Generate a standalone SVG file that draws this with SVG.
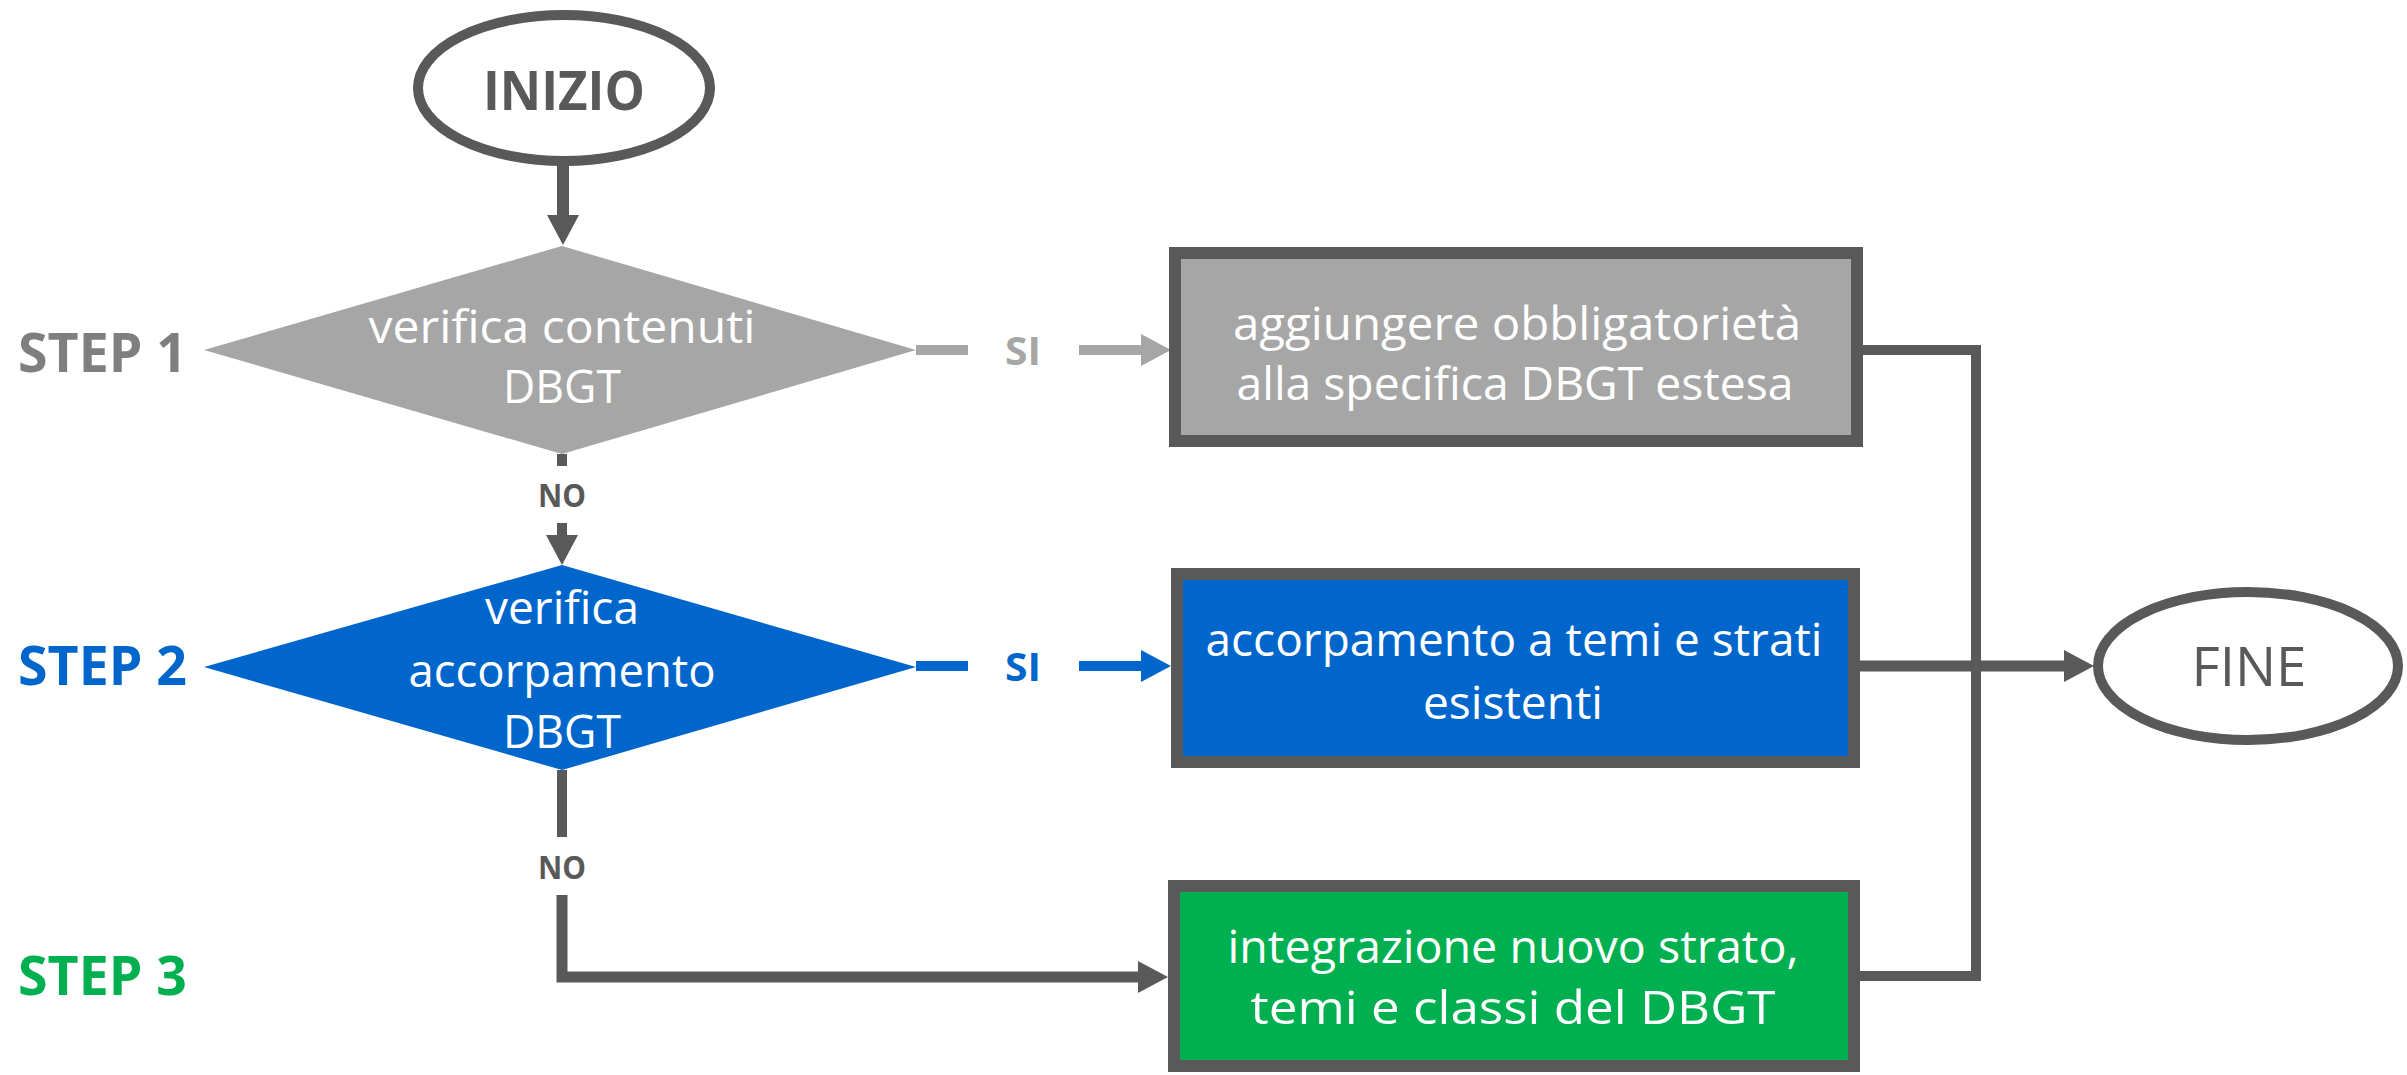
<svg xmlns="http://www.w3.org/2000/svg" width="2407" height="1075" viewBox="0 0 2407 1075">
<defs>
<style>
.t{font-family:"Open Sans","Liberation Sans",sans-serif;text-anchor:middle}
.w{fill:#fff;font-size:46px}
.b{font-weight:bold}
.step{font-family:"Open Sans","Liberation Sans",sans-serif;font-weight:bold;font-size:54px}
.ln{fill:none;stroke-linejoin:miter}
.dk{stroke:#595959}
.lg{stroke:#A6A6A6}
.bl{stroke:#0066CC}
.box{stroke:#595959;stroke-width:12}
.term{fill:#fff;stroke:#595959;stroke-width:10}
</style>
<marker id="ad" markerUnits="userSpaceOnUse" markerWidth="30" markerHeight="32" refX="0" refY="16" orient="auto"><path d="M0,0 L30,16 L0,32 z" fill="#595959"/></marker>
<marker id="ag" markerUnits="userSpaceOnUse" markerWidth="30" markerHeight="32" refX="0" refY="16" orient="auto"><path d="M0,0 L30,16 L0,32 z" fill="#A6A6A6"/></marker>
<marker id="ab" markerUnits="userSpaceOnUse" markerWidth="30" markerHeight="32" refX="0" refY="16" orient="auto"><path d="M0,0 L30,16 L0,32 z" fill="#0066CC"/></marker>
</defs>

<g id="labels">
<text class="step" x="18" y="372" fill="#7F7F7F" textLength="169" lengthAdjust="spacingAndGlyphs">STEP 1</text>
<text class="step" x="18" y="685" fill="#0066CC" textLength="169" lengthAdjust="spacingAndGlyphs">STEP 2</text>
<text class="step" x="18" y="995" fill="#00B050" textLength="169" lengthAdjust="spacingAndGlyphs">STEP 3</text>
</g>

<g id="connectors">
<path class="ln dk" stroke-width="12" d="M563,161 V215" marker-end="url(#ad)"/>
<path class="ln lg" stroke-width="10" d="M916,350 H968"/>
<text class="t b" x="1023" y="365" font-size="39" fill="#A6A6A6" textLength="36" lengthAdjust="spacingAndGlyphs">SI</text>
<path class="ln lg" stroke-width="10" d="M1079,350 H1141" marker-end="url(#ag)"/>
<path class="ln dk" stroke-width="10" d="M562,454 V466"/>
<text class="t b" x="562" y="507" font-size="32" fill="#595959" textLength="48" lengthAdjust="spacingAndGlyphs">NO</text>
<path class="ln dk" stroke-width="10" d="M562,523 V535" marker-end="url(#ad)"/>
<path class="ln bl" stroke-width="10" d="M916,666 H968"/>
<text class="t b" x="1023" y="681" font-size="39" fill="#0066CC" textLength="36" lengthAdjust="spacingAndGlyphs">SI</text>
<path class="ln bl" stroke-width="10" d="M1079,666 H1141" marker-end="url(#ab)"/>
<path class="ln dk" stroke-width="10" d="M562,770 V837"/>
<text class="t b" x="562" y="879" font-size="32" fill="#595959" textLength="48" lengthAdjust="spacingAndGlyphs">NO</text>
<path class="ln dk" stroke-width="11" d="M562,895 V977 H1138" marker-end="url(#ad)"/>
<path class="ln dk" stroke-width="10" d="M1863,350 H1976 V976 H1860"/>
<path class="ln dk" stroke-width="11" d="M1860,666 H2064" marker-end="url(#ad)"/>
</g>

<g id="inizio">
<ellipse class="term" cx="564" cy="88" rx="146" ry="73"/>
<text class="t b" x="564" y="110" font-size="54" fill="#595959" textLength="162" lengthAdjust="spacingAndGlyphs">INIZIO</text>
</g>

<g id="step1-decision">
<polygon points="562,246 916,350 562,454 204,350" fill="#A6A6A6"/>
<text class="t w" x="562" y="343" textLength="387" lengthAdjust="spacingAndGlyphs">verifica contenuti</text>
<text class="t w" x="562" y="403" textLength="118" lengthAdjust="spacingAndGlyphs">DBGT</text>
</g>

<g id="step1-action">
<rect class="box" x="1175" y="253" width="682" height="188" fill="#A6A6A6"/>
<text class="t w" x="1517" y="340" textLength="568" lengthAdjust="spacingAndGlyphs">aggiungere obbligatorietà</text>
<text class="t w" x="1515" y="400" textLength="557" lengthAdjust="spacingAndGlyphs">alla specifica DBGT estesa</text>
</g>

<g id="step2-decision">
<polygon points="562,565 916,667 562,770 204,667" fill="#0066CC"/>
<text class="t w" x="562" y="624" textLength="154" lengthAdjust="spacingAndGlyphs">verifica</text>
<text class="t w" x="562" y="687" textLength="307" lengthAdjust="spacingAndGlyphs">accorpamento</text>
<text class="t w" x="562" y="748" textLength="118" lengthAdjust="spacingAndGlyphs">DBGT</text>
</g>

<g id="step2-action">
<rect class="box" x="1177" y="574" width="677" height="188" fill="#0066CC"/>
<text class="t w" x="1514" y="656" textLength="617" lengthAdjust="spacingAndGlyphs">accorpamento a temi e strati</text>
<text class="t w" x="1513" y="719" textLength="180" lengthAdjust="spacingAndGlyphs">esistenti</text>
</g>

<g id="step3-action">
<rect class="box" x="1174" y="886" width="680" height="180" fill="#00B050"/>
<text class="t w" x="1513" y="963" textLength="571" lengthAdjust="spacingAndGlyphs">integrazione nuovo strato,</text>
<text class="t w" x="1513" y="1024" textLength="525" lengthAdjust="spacingAndGlyphs">temi e classi del DBGT</text>
</g>

<g id="fine">
<ellipse class="term" cx="2248" cy="666" rx="150" ry="74"/>
<text x="2249" y="686" class="t" font-size="54" fill="#595959" textLength="115" lengthAdjust="spacingAndGlyphs">FINE</text>
</g>
</svg>
